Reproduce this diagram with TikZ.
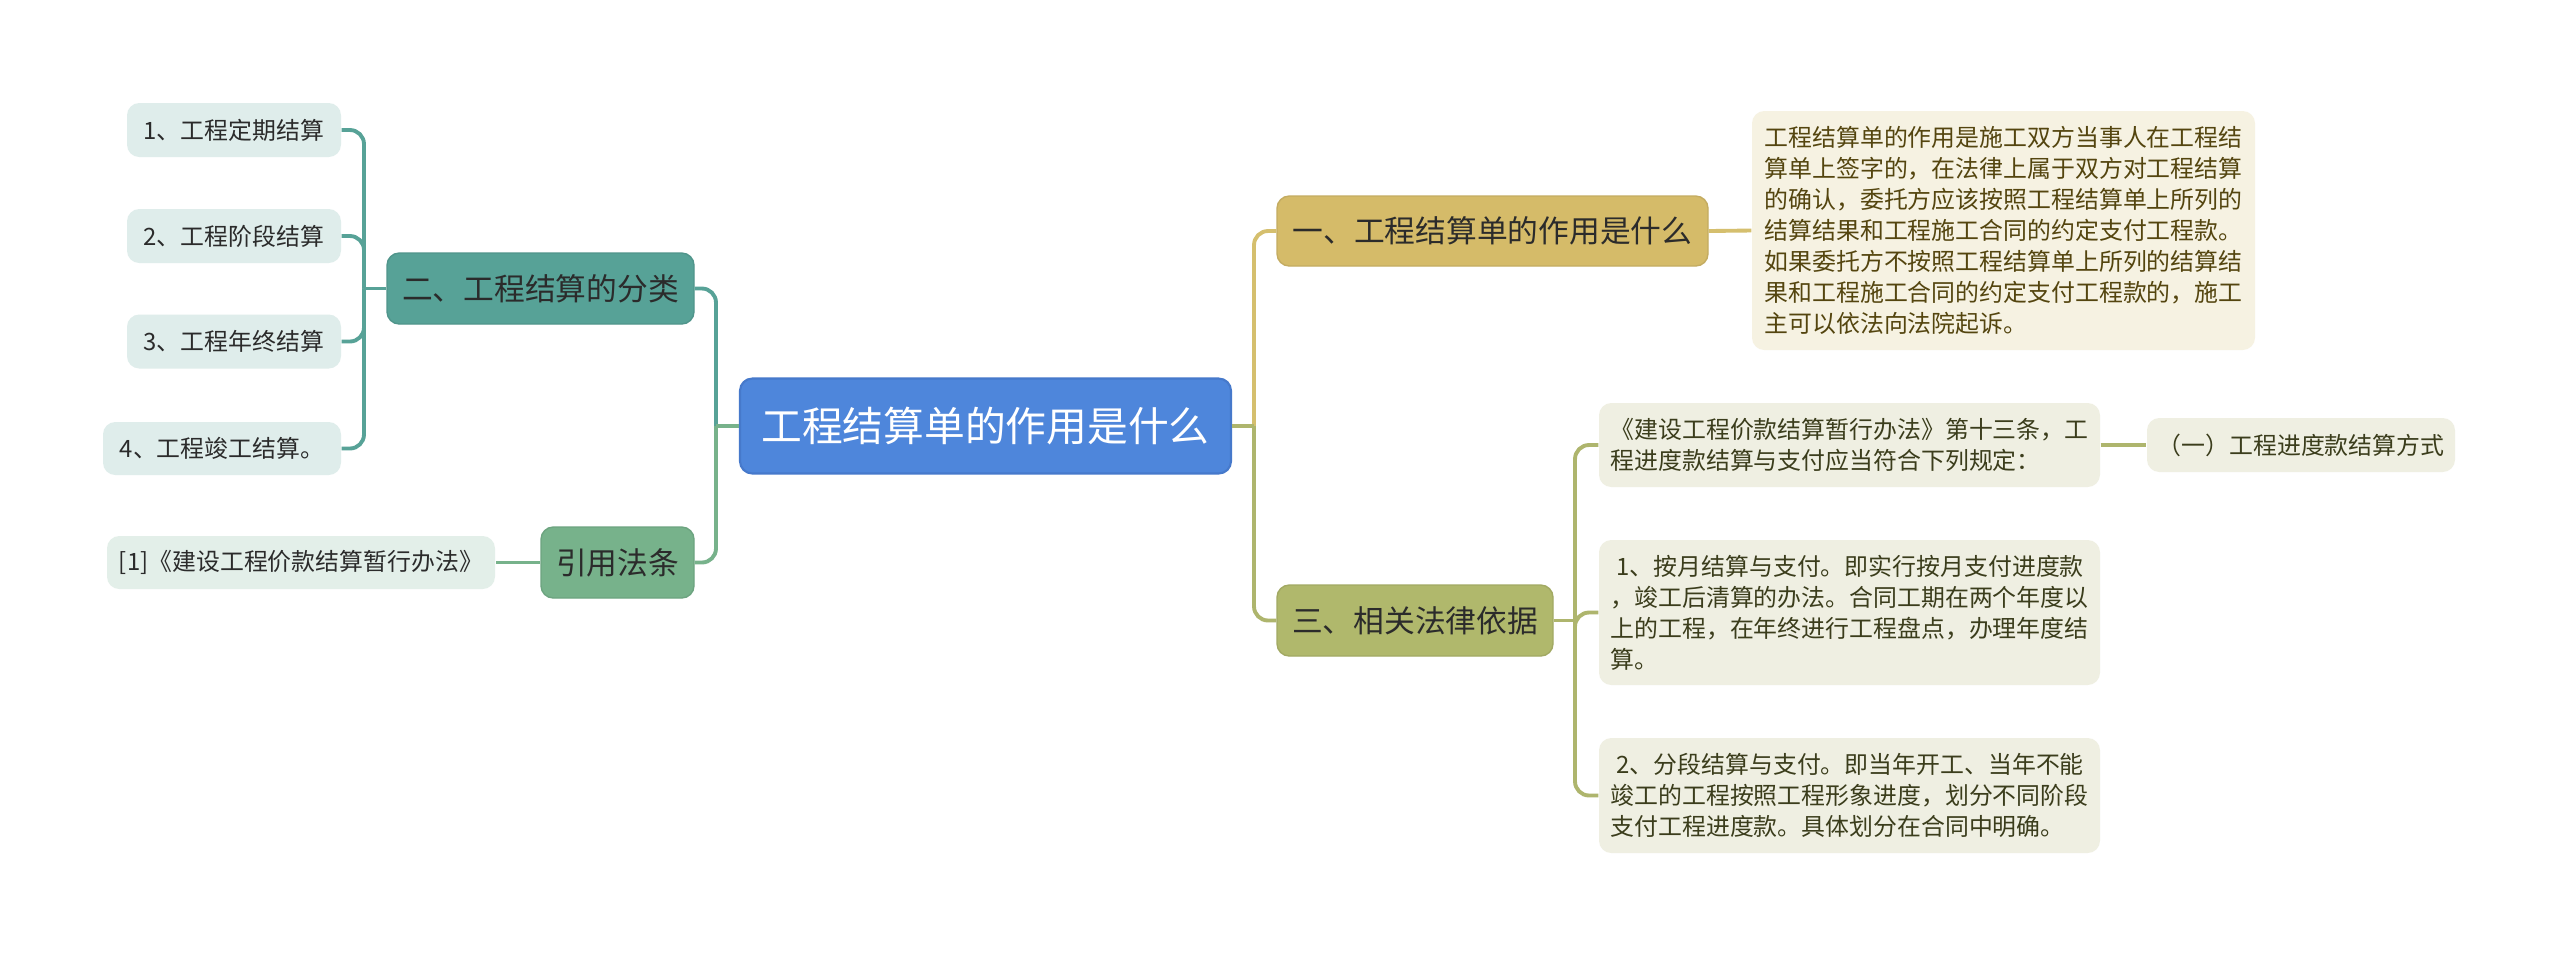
\documentclass[tikz,border=0pt]{standalone}
\usepackage{fontspec}
\setmainfont{Noto Sans CJK SC}
\usetikzlibrary{positioning}

\begin{document}
\begin{tikzpicture}
  % Mind map: root in the middle, two branches on each side,
  % elbow connectors with rounded ends.
  \definecolor{rootblue}{HTML}{4E86DB}
  \definecolor{rootedge}{HTML}{4679CB}
  \definecolor{gold}{HTML}{D5BB69}
  \definecolor{goldline}{HTML}{D5BF6E}
  \definecolor{descfill}{HTML}{F6F2E2}
  \definecolor{desctext}{HTML}{54450F}
  \definecolor{olive}{HTML}{B0B86C}
  \definecolor{oliveline}{HTML}{AEB56D}
  \definecolor{lawfill}{HTML}{EFEFE2}
  \definecolor{lawtext}{HTML}{3B3D1C}
  \definecolor{teal}{HTML}{57A297}
  \definecolor{tealleaf}{HTML}{DFEDEB}
  \definecolor{green}{HTML}{77B28B}
  \definecolor{greenleaf}{HTML}{E3EFE9}
  \definecolor{ink}{HTML}{2B2B2B}
  \useasboundingbox (0,0) rectangle (25.6,-9.57);
  \fill[white] (0,0) rectangle (25.6,-9.57);

  \tikzset{box/.style={rounded corners=3.5pt,inner sep=0pt,align=center},
           rootbox/.style={box,fill=rootblue,draw=rootedge,line width=.6pt,text=white,
                           font=\fontsize{11.6}{14}\selectfont,minimum width=4.91cm,minimum height=.95cm},
           mainbox/.style={box,text=ink,font=\fontsize{8.75}{10.5}\selectfont,minimum height=.71cm},
           leafbox/.style={box,font=\fontsize{6.8}{8.8}\selectfont,minimum height=.54cm},
           link/.style={line width=1.1pt,rounded corners=4pt}}

  \node[rootbox] (root) at (9.855,-4.26) {工程结算单的作用是什么};

  % right side
  \node[mainbox,fill=gold,draw=gold!92!black,minimum width=4.31cm,minimum height=.70cm] (why) at (14.925,-2.31) {一、工程结算单的作用是什么};
  \node[leafbox,fill=descfill,text=desctext,align=left,minimum width=5.03cm,minimum height=2.39cm] (whytext) at (20.035,-2.305)
    {工程结算单的作用是施工双方当事人在工程结\\算单上签字的，在法律上属于双方对工程结算\\的确认，委托方应该按照工程结算单上所列的\\结算结果和工程施工合同的约定支付工程款。\\如果委托方不按照工程结算单上所列的结算结\\果和工程施工合同的约定支付工程款的，施工\\主可以依法向法院起诉。};
  \node[mainbox,fill=olive,draw=olive!92!black,minimum width=2.76cm] (basis) at (14.15,-6.205) {三、相关法律依据};
  \node[leafbox,fill=lawfill,text=lawtext,align=left,minimum width=5.01cm,minimum height=.84cm] (rule) at (18.495,-4.45)
    {《建设工程价款结算暂行办法》第十三条，工\\程进度款结算与支付应当符合下列规定：};
  \node[leafbox,fill=lawfill,text=lawtext,minimum width=3.08cm] (ruleway) at (23.01,-4.45) {（一）工程进度款结算方式};
  \node[leafbox,fill=lawfill,text=lawtext,align=left,minimum width=5.01cm,minimum height=1.45cm] (monthly) at (18.495,-6.125)
    {\hspace{.25em}1、按月结算与支付。即实行按月支付进度款\\，竣工后清算的办法。合同工期在两个年度以\\上的工程，在年终进行工程盘点，办理年度结\\算。};
  \node[leafbox,fill=lawfill,text=lawtext,align=left,minimum width=5.01cm,minimum height=1.15cm] (staged) at (18.495,-7.955)
    {\hspace{.25em}2、分段结算与支付。即当年开工、当年不能\\竣工的工程按照工程形象进度，划分不同阶段\\支付工程进度款。具体划分在合同中明确。};

  % left side
  \node[mainbox,fill=teal,draw=teal!92!black,minimum width=3.07cm] (kinds) at (5.405,-2.885) {二、工程结算的分类};
  \node[mainbox,fill=green,draw=green!92!black,minimum width=1.53cm] (cite) at (6.175,-5.625) {引用法条};
  \node[leafbox,fill=tealleaf,text=ink,minimum width=2.14cm] (kind1) at (2.34,-1.30) {1、工程定期结算};
  \node[leafbox,fill=tealleaf,text=ink,minimum width=2.14cm] (kind2) at (2.34,-2.36) {2、工程阶段结算};
  \node[leafbox,fill=tealleaf,text=ink,minimum width=2.14cm] (kind3) at (2.34,-3.415) {3、工程年终结算};
  \node[leafbox,fill=tealleaf,text=ink,minimum width=2.38cm,minimum height=.53cm] (kind4) at (2.22,-4.485) {4、工程竣工结算。};
  \node[leafbox,fill=greenleaf,text=ink,minimum width=3.88cm,minimum height=.53cm] (citeref) at (3.01,-5.625) {[1]《建设工程价款结算暂行办法》};

  % connectors
  \coordinate (rj) at (12.54,-4.26);
  \coordinate (lj) at (7.16,-4.26);
  \coordinate (bj) at (15.75,-6.205);
  \coordinate (kj) at (3.64,-2.885);

  \draw[link,goldline] (root.east) -- (rj);
  \draw[link,goldline] (rj) |- (why.west);
  \draw[link,oliveline] (root.east) -- (rj);
  \draw[link,oliveline] (rj) |- (basis.west);
  \draw[link,goldline] (why.east) -- (whytext.west);
  \draw[link,oliveline] (basis.east) -- (bj);
  \foreach \n in {rule,monthly,staged}
    \draw[link,oliveline] (bj) |- (\n.west);
  \draw[link,oliveline] (rule.east) -- (ruleway.west);

  \draw[link,teal] (lj) |- (kinds.east);
  \draw[link,green] (lj) |- (cite.east);
  \draw[link,green] (root.west) -- (lj);
  \draw[link,teal] (kinds.west) -- (kj);
  \foreach \n in {kind1,kind2,kind3,kind4}
    \draw[link,teal] (kj) |- (\n.east);
  \draw[link,green] (cite.west) -- (citeref.east);
\end{tikzpicture}
\end{document}
